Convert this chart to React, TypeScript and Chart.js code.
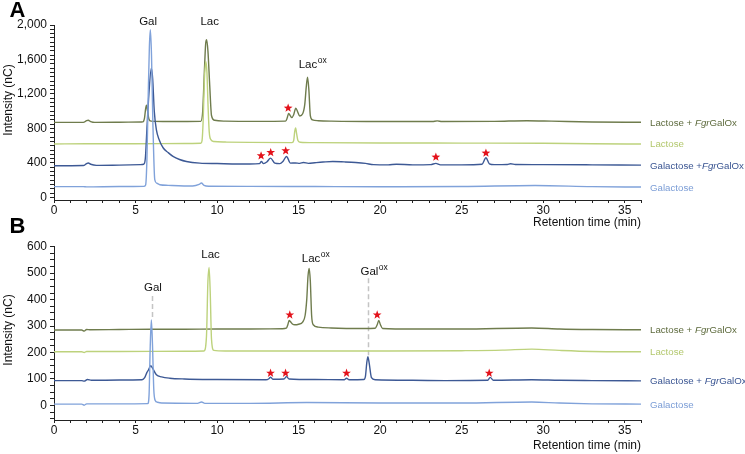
import React, { useEffect, useRef } from 'react';
import { Chart, registerables } from 'chart.js';

Chart.register(...registerables);

const FONT = '"Liberation Sans", Arial, Helvetica, sans-serif';

const C_OLIVE = '#6f7c4d';
const C_LGREEN = '#bdd27c';
const C_NAVY = '#3d5995';
const C_LBLUE = '#80a2da';
const C_OLIVE_TXT = '#5e6b3e';
const C_LGREEN_TXT = '#b3c86e';
const C_NAVY_TXT = '#3a5592';
const C_LBLUE_TXT = '#7b9dd6';

// ---------- tick labels ----------
const xTickLabels = [0, 5, 10, 15, 20, 25, 30, 35];
const yTickLabelsA = [0, 400, 800, 1200, 1600, 2000];
const yTickLabelsB = [0, 100, 200, 300, 400, 500, 600];

// ---------- Panel A (retention time, min / intensity, nC) ----------
const aLacGalOxT = [0, 1.8, 2.0, 2.1, 2.25, 2.5, 4, 5.35, 5.45, 5.55, 5.62, 5.67, 5.74, 5.82, 5.95, 7, 9.0, 9.12, 9.22, 9.3, 9.36, 9.44, 9.55, 9.66, 9.85, 10.5, 12.5, 14.2, 14.3, 14.39, 14.5, 14.58, 14.7, 14.83, 14.95, 15.07, 15.25, 15.38, 15.47, 15.55, 15.63, 15.72, 15.85, 16.2, 17, 20, 23.2, 23.5, 23.8, 27, 29, 30.5, 33, 36];
const aLacGalOxV = [870, 870, 890, 895, 880, 870, 872, 875, 876, 920, 1030, 1070, 1000, 910, 885, 880, 882, 1000, 1450, 1780, 1830, 1700, 1300, 950, 895, 885, 882, 885, 920, 975, 945, 925, 960, 1035, 990, 945, 970, 1080, 1280, 1395, 1250, 950, 900, 890, 885, 880, 880, 888, 880, 882, 890, 885, 875, 872];

const aLacT = [0, 2, 5, 8, 9.0, 9.08, 9.15, 9.22, 9.31, 9.38, 9.45, 9.52, 9.62, 9.8, 10.5, 12, 14.6, 14.7, 14.76, 14.82, 14.88, 14.96, 15.1, 16, 20, 25, 30, 33, 36];
const aLacV = [620, 622, 622, 625, 628, 660, 900, 1350, 1578, 1450, 1050, 760, 670, 648, 642, 638, 636, 660, 760, 805, 740, 660, 640, 635, 632, 630, 628, 622, 620];

const aGalGalOxT = [0, 1.8, 2.0, 2.1, 2.25, 2.6, 4, 5.3, 5.5, 5.6, 5.7, 5.82, 5.97, 6.05, 6.15, 6.28, 6.45, 6.69, 7.0, 7.3, 7.7, 8.12, 8.94, 10, 12, 12.6, 12.72, 12.85, 13.05, 13.28, 13.54, 13.85, 14.05, 14.26, 14.5, 14.8, 15.07, 15.3, 15.6, 16, 16.5, 17.1, 17.8, 18.5, 19.1, 19.6, 20.5, 21, 22, 23.1, 23.42, 23.7, 25, 26.25, 26.49, 26.7, 27, 27.8, 28.0, 28.3, 30, 33, 36];
const aGalGalOxV = [368, 370, 392, 400, 385, 372, 375, 380, 385, 450, 800, 1200, 1500, 1380, 1000, 783, 670, 576, 520, 475, 440, 417, 398, 393, 387, 392, 417, 392, 410, 456, 398, 392, 420, 475, 398, 400, 395, 405, 395, 402, 410, 417, 412, 405, 395, 380, 378, 385, 378, 380, 395, 378, 378, 385, 460, 390, 380, 382, 390, 382, 380, 378, 375];

const aGalT = [0, 1.8, 2.0, 4, 5.5, 5.62, 5.7, 5.78, 5.85, 5.91, 5.98, 6.06, 6.18, 6.3, 6.49, 7, 8.5, 8.9, 9.04, 9.2, 9.5, 12, 16, 20, 25, 29.5, 33, 36];
const aGalV = [125, 125, 122, 126, 128, 145, 450, 1200, 1750, 1945, 1650, 900, 205, 165, 147, 140, 132, 150, 167, 140, 130, 128, 126, 124, 126, 138, 125, 120];

// ---------- Panel B ----------
const bLacGalOxT = [0, 1.7, 1.85, 2.0, 2.2, 4, 6, 8, 10, 12, 14.0, 14.25, 14.34, 14.42, 14.52, 14.62, 14.77, 15.0, 15.25, 15.4, 15.5, 15.58, 15.65, 15.72, 15.8, 15.9, 16.2, 17, 19, 19.7, 19.82, 19.92, 20.02, 20.15, 22, 25, 29.3, 31, 33, 36];
const bLacGalOxV = [285, 285, 281, 287, 286, 287, 288, 288, 289, 289, 290, 292, 305, 321, 315, 308, 305, 307, 315, 340, 400, 490, 518, 470, 340, 305, 296, 293, 291, 292, 305, 321, 305, 291, 289, 289, 293, 289, 287, 286];

const bLacT = [0, 1.7, 1.85, 2.0, 4, 8, 9.2, 9.35, 9.44, 9.51, 9.58, 9.66, 9.8, 10.5, 15, 20, 25, 27.5, 29.3, 31, 33, 36];
const bLacV = [203, 203, 200, 204, 204, 205, 206, 260, 470, 522, 430, 250, 208, 206, 206, 206, 207, 209, 213, 208, 204, 203];

const bGalGalOxT = [0, 1.7, 1.85, 2.05, 2.3, 4, 5.4, 5.56, 5.7, 5.8, 5.93, 6.05, 6.28, 6.6, 7.1, 8, 10, 13, 13.18, 13.28, 13.42, 14.1, 14.26, 14.42, 16, 17.8, 17.94, 18.1, 19.0, 19.1, 19.18, 19.25, 19.33, 19.47, 19.7, 22, 24, 26.6, 26.75, 26.95, 29.3, 31, 33, 36];
const bGalGalOxV = [94, 94, 92, 98, 95, 96, 97, 105, 125, 135, 150, 140, 116, 108, 103, 100, 98, 97, 101, 107, 99, 100, 109, 100, 98, 97, 103, 97, 98, 110, 160, 184, 160, 105, 97, 95, 94, 95, 106, 95, 97, 95, 94, 93];

const bGalT = [0, 1.7, 1.85, 2.0, 4, 5.75, 5.83, 5.9, 5.97, 6.04, 6.12, 6.2, 6.35, 6.6, 8.8, 9.05, 9.25, 12, 15.5, 20, 25, 29.3, 31, 33, 36];
const bGalV = [5, 5, 1, 6, 6, 7, 40, 220, 323, 230, 60, 20, 12, 9, 8, 13, 8, 8, 11, 9, 9, 13, 9, 6, 5];

// ---------- annotations (data coordinates) ----------
const aStarT = [14.36, 12.7, 13.29, 14.21, 23.42, 26.49];
const aStarV = [1036, 483, 521, 541, 468, 514];
const bStarT = [14.46, 19.82, 13.28, 14.2, 17.94, 26.69];
const bStarV = [342, 342, 122, 122, 122, 122];

type Seg = [string, boolean];
type Series = { t: number[]; v: number[]; color: string; txt: string; label: Seg[] };
type PeakLabel = { text: string; sup: string; t: number; v: number };
type Guide = { t: number; from: number; to: number };

type PanelCfg = {
  letter: string;
  top: number;
  height: number;
  padTop: number;
  xH: number;
  xTitlePad: number;
  yMin: number;
  yMax: number;
  yStep: number;
  yLabels: number[];
  yTitleY: number;
  letterY: number;
  series: Series[];
  peaks: PeakLabel[];
  guides: Guide[];
  starT: number[];
  starV: number[];
};

const panelA: PanelCfg = {
  letter: 'A', top: 0, height: 230, padTop: 25, xH: 30, xTitlePad: 0,
  yMin: -30, yMax: 2000, yStep: 50, yLabels: yTickLabelsA, yTitleY: 100, letterY: 17,
  series: [
    { t: aGalT, v: aGalV, color: C_LBLUE, txt: C_LBLUE_TXT, label: [['Galactose', false]] },
    { t: aGalGalOxT, v: aGalGalOxV, color: C_NAVY, txt: C_NAVY_TXT, label: [['Galactose +', false], ['Fgr', true], ['GalOx', false]] },
    { t: aLacT, v: aLacV, color: C_LGREEN, txt: C_LGREEN_TXT, label: [['Lactose', false]] },
    { t: aLacGalOxT, v: aLacGalOxV, color: C_OLIVE, txt: C_OLIVE_TXT, label: [['Lactose + ', false], ['Fgr', true], ['GalOx', false]] },
  ],
  peaks: [
    { text: 'Gal', sup: '', t: 5.77, v: 2000 },
    { text: 'Lac', sup: '', t: 9.55, v: 2000 },
    { text: 'Lac', sup: 'ox', t: 15.85, v: 1503 },
  ],
  guides: [],
  starT: aStarT, starV: aStarV,
};

const panelB: PanelCfg = {
  letter: 'B', top: 210, height: 244, padTop: 36.7, xH: 34, xTitlePad: 1,
  yMin: -55, yMax: 600, yStep: 25, yLabels: yTickLabelsB, yTitleY: 120, letterY: 23,
  series: [
    { t: bGalT, v: bGalV, color: C_LBLUE, txt: C_LBLUE_TXT, label: [['Galactose', false]] },
    { t: bGalGalOxT, v: bGalGalOxV, color: C_NAVY, txt: C_NAVY_TXT, label: [['Galactose + ', false], ['Fgr', true], ['GalOx', false]] },
    { t: bLacT, v: bLacV, color: C_LGREEN, txt: C_LGREEN_TXT, label: [['Lactose', false]] },
    { t: bLacGalOxT, v: bLacGalOxV, color: C_OLIVE, txt: C_OLIVE_TXT, label: [['Lactose + ', false], ['Fgr', true], ['GalOx', false]] },
  ],
  peaks: [
    { text: 'Gal', sup: '', t: 6.07, v: 431 },
    { text: 'Lac', sup: '', t: 9.6, v: 557 },
    { text: 'Lac', sup: 'ox', t: 16.04, v: 544 },
    { text: 'Gal', sup: 'ox', t: 19.62, v: 493 },
  ],
  guides: [
    { t: 5.99, from: 414, to: 323 },
    { t: 19.27, from: 481, to: 186 },
  ],
  starT: bStarT, starV: bStarV,
};

function drawStar(ctx: CanvasRenderingContext2D, cx: number, cy: number, R: number, r: number) {
  ctx.beginPath();
  for (let i = 0; i < 10; i++) {
    const a = -Math.PI / 2 + (i * Math.PI) / 5;
    const rad = i % 2 === 0 ? R : r;
    const px = cx + rad * Math.cos(a);
    const py = cy + rad * Math.sin(a);
    if (i === 0) ctx.moveTo(px, py);
    else ctx.lineTo(px, py);
  }
  ctx.closePath();
  ctx.fill();
}

function makePlugin(cfg: PanelCfg) {
  return {
    id: 'annot' + cfg.letter,
    beforeDatasetsDraw(chart: any) {
      const { ctx } = chart;
      const xs = chart.scales.x;
      const ys = chart.scales.y;
      ctx.save();
      ctx.strokeStyle = '#c4c4c4';
      ctx.lineWidth = 1.5;
      ctx.setLineDash([5, 3]);
      cfg.guides.forEach((g) => {
        const gx = Math.round(xs.getPixelForValue(g.t)) + 0.5;
        ctx.beginPath();
        ctx.moveTo(gx, ys.getPixelForValue(g.from));
        ctx.lineTo(gx, ys.getPixelForValue(g.to));
        ctx.stroke();
      });
      ctx.restore();
    },
    afterDraw(chart: any) {
      const { ctx, chartArea } = chart;
      const xs = chart.scales.x;
      const ys = chart.scales.y;
      ctx.save();

      // stars
      ctx.fillStyle = '#e3121b';
      cfg.starT.forEach((t, i) => {
        drawStar(ctx, xs.getPixelForValue(t), ys.getPixelForValue(cfg.starV[i]), 4.6, 1.9);
      });

      // peak labels
      ctx.fillStyle = '#111';
      ctx.textBaseline = 'alphabetic';
      cfg.peaks.forEach((p) => {
        ctx.font = `11.5px ${FONT}`;
        const wb = ctx.measureText(p.text).width;
        ctx.font = `8.5px ${FONT}`;
        const ws = p.sup ? ctx.measureText(p.sup).width : 0;
        const cx = xs.getPixelForValue(p.t);
        const by = ys.getPixelForValue(p.v);
        const start = cx - (wb + ws) / 2;
        ctx.textAlign = 'left';
        ctx.font = `11.5px ${FONT}`;
        ctx.fillText(p.text, start, by);
        if (p.sup) {
          ctx.font = `8.5px ${FONT}`;
          ctx.fillText(p.sup, start + wb + 0.5, by - 5);
        }
      });

      // trace labels at right
      ctx.textBaseline = 'alphabetic';
      ctx.textAlign = 'left';
      cfg.series.forEach((s) => {
        let xx = chartArea.right + 9;
        const yy = ys.getPixelForValue(s.v[s.v.length - 1]) + 3.5;
        ctx.fillStyle = s.txt;
        s.label.forEach(([txt, it]) => {
          ctx.font = `${it ? 'italic ' : ''}9.7px ${FONT}`;
          ctx.fillText(txt, xx, yy);
          xx += ctx.measureText(txt).width;
        });
      });

      // y title
      ctx.save();
      ctx.fillStyle = '#111';
      ctx.font = `12px ${FONT}`;
      ctx.translate(8.5, cfg.yTitleY);
      ctx.rotate(-Math.PI / 2);
      ctx.textAlign = 'center';
      ctx.textBaseline = 'middle';
      ctx.fillText('Intensity (nC)', 0, 0);
      ctx.restore();

      // panel letter
      ctx.fillStyle = '#000';
      ctx.font = `bold 22px ${FONT}`;
      ctx.textAlign = 'left';
      ctx.textBaseline = 'alphabetic';
      ctx.fillText(cfg.letter, 9.5, cfg.letterY);

      ctx.restore();
    },
  };
}

function Panel({ cfg }: { cfg: PanelCfg }) {
  const ref = useRef<HTMLCanvasElement>(null);
  useEffect(() => {
    const canvas = ref.current;
    if (!canvas) return;
    const tickFont = { family: FONT, size: 12 };
    const chart = new Chart(canvas, {
      type: 'line',
      data: {
        datasets: cfg.series.map((s) => ({
          data: s.t.map((t, i) => ({ x: t, y: s.v[i] })),
          borderColor: s.color,
          borderWidth: 1.4,
          pointRadius: 0,
          fill: false,
          cubicInterpolationMode: 'monotone' as const,
        })),
      },
      options: {
        responsive: false,
        animation: false,
        events: [],
        layout: { padding: { top: cfg.padTop, right: 104, bottom: 0, left: 0 } },
        plugins: { legend: { display: false }, tooltip: { enabled: false }, title: { display: false } },
        scales: {
          x: {
            type: 'linear',
            min: 0,
            max: 36,
            afterFit: (s: any) => { s.height = cfg.xH; },
            ticks: {
              stepSize: 1,
              autoSkip: false,
              maxRotation: 0,
              minRotation: 0,
              padding: 0,
              color: '#111',
              font: tickFont,
              callback: (v: any) => (xTickLabels.includes(Number(v)) ? String(v) : ''),
            },
            grid: { drawOnChartArea: false, drawTicks: true, tickLength: 3, color: '#222' },
            border: { display: true, color: '#222', width: 1 },
            title: {
              display: true,
              text: 'Retention time (min)',
              align: 'end',
              color: '#111',
              font: { family: FONT, size: 12 },
              padding: { top: 0, bottom: cfg.xTitlePad },
            },
          },
          y: {
            type: 'linear',
            min: cfg.yMin,
            max: cfg.yMax,
            afterFit: (s: any) => { s.width = 54; },
            ticks: {
              stepSize: cfg.yStep,
              includeBounds: false,
              autoSkip: false,
              padding: 3,
              color: '#111',
              font: tickFont,
              callback: (v: any) => (cfg.yLabels.includes(Number(v)) ? Number(v).toLocaleString('en-US') : ''),
            },
            grid: { drawOnChartArea: false, drawTicks: true, tickLength: 4, color: '#222' },
            border: { display: true, color: '#222', width: 1 },
            title: { display: false },
          },
        },
      },
      plugins: [makePlugin(cfg)],
    } as any);
    return () => chart.destroy();
  }, [cfg]);
  return (
    <canvas
      ref={ref}
      width={745}
      height={cfg.height}
      style={{ position: 'absolute', left: 0, top: cfg.top, width: 745, height: cfg.height }}
    />
  );
}

export default function App() {
  return (
    <div style={{ position: 'fixed', left: 0, top: 0, width: 745, height: 454, background: '#fff', overflow: 'hidden' }}>
      <Panel cfg={panelA} />
      <Panel cfg={panelB} />
    </div>
  );
}
